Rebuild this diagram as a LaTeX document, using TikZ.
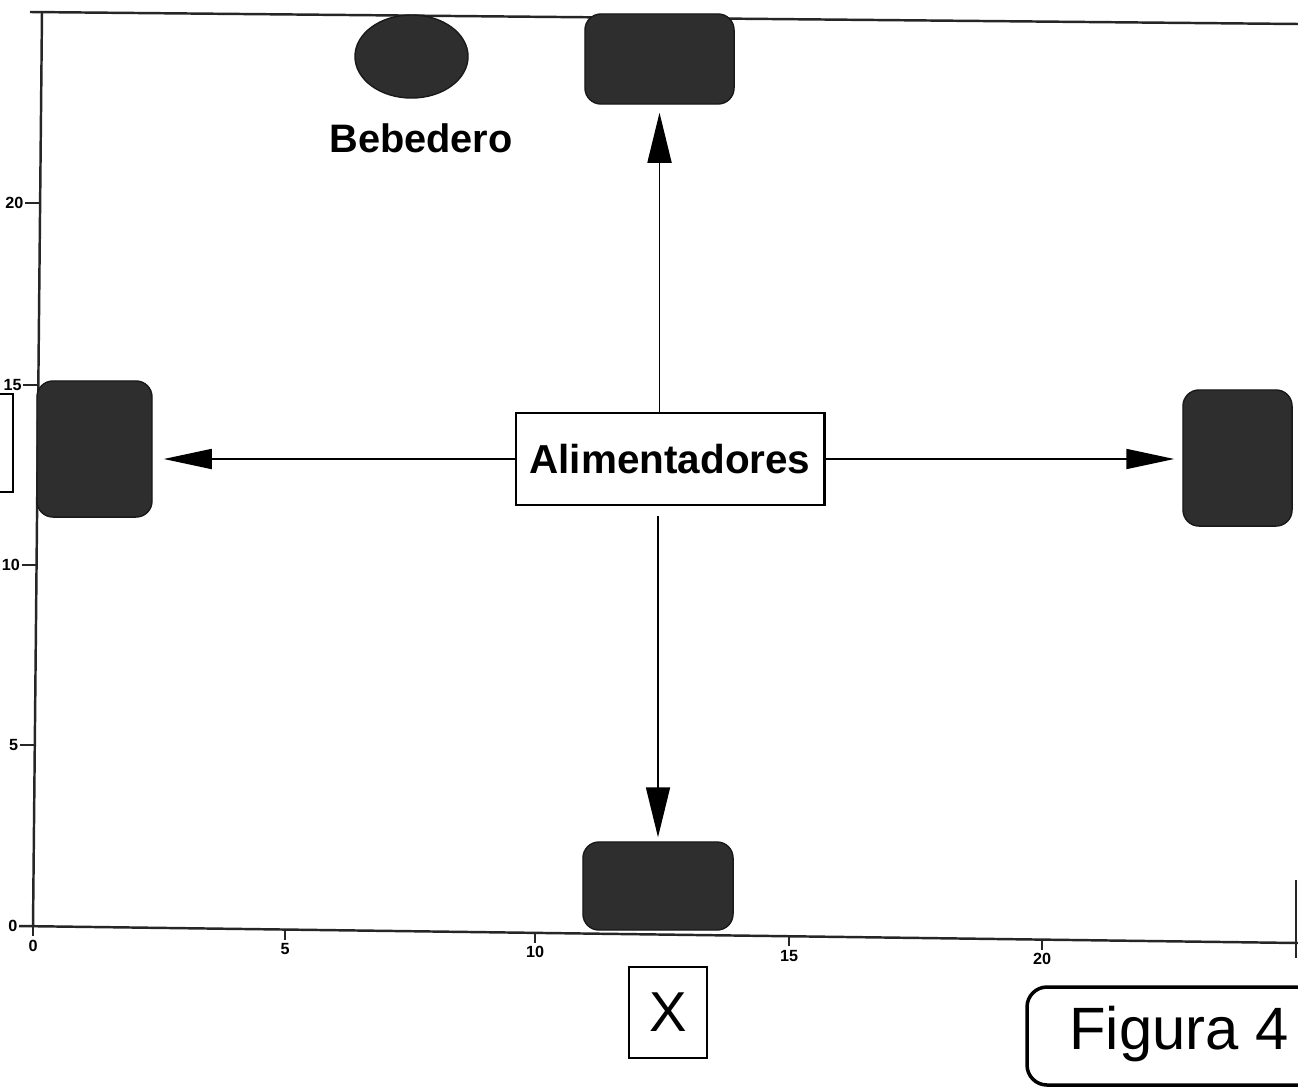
\documentclass[tikz,border=0pt]{standalone}
\usepackage{fontspec}
\setmainfont{Liberation Sans}
\usetikzlibrary{arrows.meta,shapes.geometric}
\tikzset{
  axisline/.style={line width=0.7pt, black!85},
  tickline/.style={line width=0.6pt, black!85},
  ticklab/.style={font=\fontsize{4.6}{5}\selectfont\bfseries, inner sep=0pt},
  feeder/.style={fill=black!82, draw=black!90, line width=0.4pt, rounded corners=0.16cm, inner sep=0pt},
  waterer/.style={ellipse, fill=black!82, draw=black!90, line width=0.4pt, inner sep=0pt},
  mainbox/.style={draw, line width=0.8pt, inner sep=0pt, font=\fontsize{11.5}{13}\selectfont\bfseries},
  conn/.style={line width=0.5pt, -{Triangle[length=0.5cm, width=0.24cm]}},
  connh/.style={line width=0.5pt, -{Triangle[length=0.48cm, width=0.2cm]}},
}
\begin{document}
\begin{tikzpicture}[x=0.01cm, y=-0.01cm]
\useasboundingbox (0,0) rectangle (1298,1088);
\fill[white] (0,0) rectangle (1298,1088);

% frame / axes
\draw[axisline] (30,12) -- (1298,24);
\draw[axisline] (42,12) -- (33,927);
\draw[axisline] (19,926) -- (1298,943);
\draw[tickline] (1296,880) -- (1296,958);

% y ticks
\foreach \yy/\xx/\lab in {203/40.1/20, 385/38.3/15, 565/36.6/10, 745/34.8/5}{
  \draw[tickline] (\xx-15,\yy) -- (\xx,\yy);
  \node[ticklab, anchor=east] (ylab\lab) at (\xx-16,\yy) {\lab};
}
\node[ticklab, anchor=east] (ylab0) at (18,926) {0};
% x ticks
\foreach \xx/\yy/\lab in {33/926.3/0, 285/929.6/5, 535/932.9/10, 789/936.3/15, 1042/939.6/20}{
  \draw[tickline] (\xx,\yy) -- (\xx,\yy+10);
  \node[ticklab, anchor=north] (xlab\lab) at (\xx,\yy+13) {\lab};
}

% cut-off axis label box on the left
\draw[line width=0.6pt] (0,394) -| (13,492) -- (0,492);

% feeders and waterer
\node[feeder, minimum width=1.15cm, minimum height=1.36cm] (fl) at (94.5,449) {};
\node[feeder, minimum width=1.09cm, minimum height=1.36cm] (fr) at (1237.5,458) {};
\node[feeder, minimum width=1.49cm, minimum height=0.90cm] (ft) at (659.5,59) {};
\node[feeder, minimum width=1.50cm, minimum height=0.88cm] (fb) at (658,886) {};
\node[waterer, minimum width=1.13cm, minimum height=0.83cm] (beb) at (411.5,56.5) {};
\node[font=\fontsize{11.3}{13}\selectfont\bfseries] (beblab) at (421,138) {Bebedero};

% central label
\node[mainbox, minimum width=3.08cm, minimum height=0.92cm] (alim) at (670,459) {Alimentadores};

% connectors
\draw[conn, shorten >=0.08cm] (alim.north -| ft.south) -- (ft.south);
\draw[conn, shorten <=0.1cm, shorten >=0.04cm] (alim.south -| fb.north) -- (fb.north);
\draw[connh, shorten >=0.11cm] (alim.west) -- (fl.east |- alim.west);
\draw[connh, shorten >=0.08cm] (alim.east) -- (fr.west |- alim.east);

% X label
\node[draw, line width=0.6pt, minimum width=0.78cm, minimum height=0.91cm, inner sep=0pt,
      font=\fontsize{16}{18}\selectfont] (xaxis) at (668,1012.5) {X};

% Figura 4 (box cut by the right edge)
\begin{scope}
  \clip (0,0) rectangle (1298,1088);
  \draw[line width=1pt, rounded corners=0.2cm] (1027,987) rectangle (1345,1085);
\end{scope}
\node[font=\fontsize{17}{20}\selectfont, inner sep=0pt] (fig) at (1179,1034) {Figura 4};
\end{tikzpicture}
\end{document}
